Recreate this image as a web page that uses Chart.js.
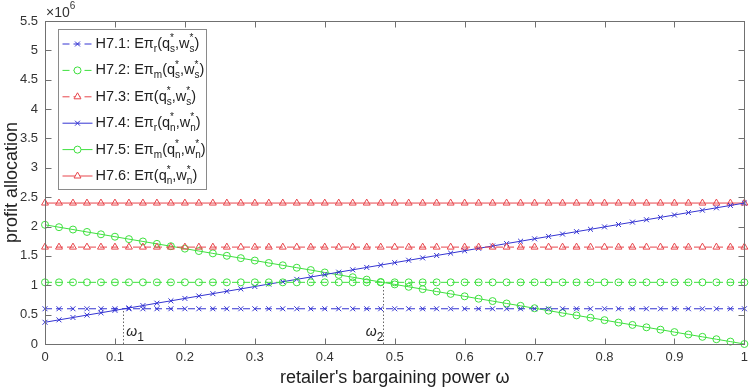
<!DOCTYPE html>
<html>
<head>
<meta charset="utf-8">
<script src="https://cdn.jsdelivr.net/npm/chart.js@4.4.0/dist/chart.umd.min.js"></script>
<style>
  html, body { margin: 0; padding: 0; background: #fff; }
  #wrap { width: 754px; height: 390px; }
</style>
</head>
<body>
<div id="wrap"><canvas id="profit" width="754" height="390"></canvas></div>
<script>
// retailer's bargaining power (x axis)
const omega = [0, 0.02, 0.04, 0.06, 0.08, 0.1, 0.12, 0.14, 0.16, 0.18,
  0.2, 0.22, 0.24, 0.26, 0.28, 0.3, 0.32, 0.34, 0.36, 0.38,
  0.4, 0.42, 0.44, 0.46, 0.48, 0.5, 0.52, 0.54, 0.56, 0.58,
  0.6, 0.62, 0.64, 0.66, 0.68, 0.7, 0.72, 0.74, 0.76, 0.78,
  0.8, 0.82, 0.84, 0.86, 0.88, 0.9, 0.92, 0.94, 0.96, 0.98, 1];

// profit values, in units of 10^6
const h71 = [0.6, 0.6, 0.6, 0.6, 0.6, 0.6, 0.6, 0.6, 0.6, 0.6,
  0.6, 0.6, 0.6, 0.6, 0.6, 0.6, 0.6, 0.6, 0.6, 0.6,
  0.6, 0.6, 0.6, 0.6, 0.6, 0.6, 0.6, 0.6, 0.6, 0.6,
  0.6, 0.6, 0.6, 0.6, 0.6, 0.6, 0.6, 0.6, 0.6, 0.6,
  0.6, 0.6, 0.6, 0.6, 0.6, 0.6, 0.6, 0.6, 0.6, 0.6, 0.6];
const h72 = [1.05, 1.05, 1.05, 1.05, 1.05, 1.05, 1.05, 1.05, 1.05, 1.05,
  1.05, 1.05, 1.05, 1.05, 1.05, 1.05, 1.05, 1.05, 1.05, 1.05,
  1.05, 1.05, 1.05, 1.05, 1.05, 1.05, 1.05, 1.05, 1.05, 1.05,
  1.05, 1.05, 1.05, 1.05, 1.05, 1.05, 1.05, 1.05, 1.05, 1.05,
  1.05, 1.05, 1.05, 1.05, 1.05, 1.05, 1.05, 1.05, 1.05, 1.05, 1.05];
const h73 = [1.65, 1.65, 1.65, 1.65, 1.65, 1.65, 1.65, 1.65, 1.65, 1.65,
  1.65, 1.65, 1.65, 1.65, 1.65, 1.65, 1.65, 1.65, 1.65, 1.65,
  1.65, 1.65, 1.65, 1.65, 1.65, 1.65, 1.65, 1.65, 1.65, 1.65,
  1.65, 1.65, 1.65, 1.65, 1.65, 1.65, 1.65, 1.65, 1.65, 1.65,
  1.65, 1.65, 1.65, 1.65, 1.65, 1.65, 1.65, 1.65, 1.65, 1.65, 1.65];
const h74 = [0.370, 0.411, 0.451, 0.492, 0.532, 0.573, 0.614, 0.654, 0.695, 0.735,
  0.776, 0.817, 0.857, 0.898, 0.938, 0.979, 1.020, 1.060, 1.101, 1.141,
  1.182, 1.223, 1.263, 1.304, 1.344, 1.385, 1.426, 1.466, 1.507, 1.547,
  1.588, 1.629, 1.669, 1.710, 1.750, 1.791, 1.832, 1.872, 1.913, 1.953,
  1.994, 2.035, 2.075, 2.116, 2.156, 2.197, 2.238, 2.278, 2.319, 2.359, 2.400];
const h75 = [2.030, 1.989, 1.949, 1.908, 1.868, 1.827, 1.786, 1.746, 1.705, 1.665,
  1.624, 1.583, 1.543, 1.502, 1.462, 1.421, 1.380, 1.340, 1.299, 1.259,
  1.218, 1.177, 1.137, 1.096, 1.056, 1.015, 0.974, 0.934, 0.893, 0.853,
  0.812, 0.771, 0.731, 0.690, 0.650, 0.609, 0.568, 0.528, 0.487, 0.447,
  0.406, 0.365, 0.325, 0.284, 0.244, 0.203, 0.162, 0.122, 0.081, 0.041, 0.000];
const h76 = [2.4, 2.4, 2.4, 2.4, 2.4, 2.4, 2.4, 2.4, 2.4, 2.4,
  2.4, 2.4, 2.4, 2.4, 2.4, 2.4, 2.4, 2.4, 2.4, 2.4,
  2.4, 2.4, 2.4, 2.4, 2.4, 2.4, 2.4, 2.4, 2.4, 2.4,
  2.4, 2.4, 2.4, 2.4, 2.4, 2.4, 2.4, 2.4, 2.4, 2.4,
  2.4, 2.4, 2.4, 2.4, 2.4, 2.4, 2.4, 2.4, 2.4, 2.4, 2.4];

const labels = [
  "H7.1: E\u03c0_{r}(q^{*}_{s},w^{*}_{s})",
  "H7.2: E\u03c0_{m}(q^{*}_{s},w^{*}_{s})",
  "H7.3: E\u03c0(q^{*}_{s},w^{*}_{s})",
  "H7.4: E\u03c0_{r}(q^{*}_{n},w^{*}_{n})",
  "H7.5: E\u03c0_{m}(q^{*}_{n},w^{*}_{n})",
  "H7.6: E\u03c0(q^{*}_{n},w^{*}_{n})"
];

// crossing points: [omega, profit] and their names
const crossX = [0.112, 0.483];
const crossY = [0.6, 1.05];
const crossNames = ["1", "2"];

const BLUE = "#3434d2";
const GREEN = "#3ee03e";
const RED = "#e8464c";
const FONT = "'Liberation Sans', Arial, sans-serif";

function series(values) {
  return omega.map((w, i) => ({ x: w, y: values[i] }));
}

function makeSet(label, values, color, style, dashed) {
  return {
    label: label,
    data: series(values),
    borderColor: color,
    backgroundColor: color,
    borderWidth: 1,
    borderDash: dashed ? [7, 4] : [],
    pointStyle: style,
    pointRadius: style === "triangle" ? 4 : 3.5,
    pointBorderWidth: 1,
    pointBorderColor: color,
    pointBackgroundColor: "rgba(0,0,0,0)",
    tension: 0,
    clip: false,
  };
}

// draw text with _{sub} and ^{sup} parts
function drawRich(ctx, str, x, y, size) {
  let cx = x;
  let i = 0;
  const big = size + "px " + FONT;
  const small = Math.round(size * 0.72) + "px " + FONT;
  while (i < str.length) {
    if (str[i] === "^" || str[i] === "_") {
      let sup = "", sub = "";
      while (i < str.length && (str[i] === "^" || str[i] === "_")) {
        const end = str.indexOf("}", i);
        const part = str.slice(i + 2, end);
        if (str[i] === "^") sup = part; else sub = part;
        i = end + 1;
      }
      ctx.font = small;
      const w = Math.max(ctx.measureText(sup).width, ctx.measureText(sub).width);
      if (sup) ctx.fillText(sup, cx, y - size * 0.38);
      if (sub) ctx.fillText(sub, cx, y + size * 0.36);
      cx += w;
    } else {
      let j = i;
      while (j < str.length && str[j] !== "^" && str[j] !== "_") j++;
      const part = str.slice(i, j);
      ctx.font = big;
      ctx.fillText(part, cx, y);
      cx += ctx.measureText(part).width;
      i = j;
    }
  }
}

const decorPlugin = {
  id: "decor",
  beforeDatasetsDraw(chart) {
    const ctx = chart.ctx;
    const xs = chart.scales.x, ys = chart.scales.y;
    ctx.save();
    ctx.strokeStyle = "#666";
    ctx.lineWidth = 1;
    ctx.setLineDash([1.5, 2]);
    crossX.forEach((w, i) => {
      const px = Math.round(xs.getPixelForValue(w)) + 0.5;
      ctx.beginPath();
      ctx.moveTo(px, ys.getPixelForValue(0));
      ctx.lineTo(px, ys.getPixelForValue(crossY[i]));
      ctx.stroke();
    });
    ctx.restore();
  },
  afterDraw(chart) {
    const ctx = chart.ctx;
    const a = chart.chartArea;
    const xs = chart.scales.x, ys = chart.scales.y;
    ctx.save();

    // axis box with inward ticks
    ctx.strokeStyle = "#707070";
    ctx.lineWidth = 1;
    ctx.setLineDash([]);
    const L = Math.round(a.left) + 0.5, R = Math.round(a.right) + 0.5;
    const T = Math.round(a.top) + 0.5, B = Math.round(a.bottom) + 0.5;
    ctx.strokeRect(L, T, R - L, B - T);
    ctx.beginPath();
    xs.ticks.forEach(t => {
      const px = Math.round(xs.getPixelForValue(t.value)) + 0.5;
      ctx.moveTo(px, B); ctx.lineTo(px, B - 6);
      ctx.moveTo(px, T); ctx.lineTo(px, T + 6);
    });
    ys.ticks.forEach(t => {
      const py = Math.round(ys.getPixelForValue(t.value)) + 0.5;
      ctx.moveTo(L, py); ctx.lineTo(L + 6, py);
      ctx.moveTo(R, py); ctx.lineTo(R - 6, py);
    });
    ctx.stroke();

    // exponent label
    ctx.fillStyle = "#333";
    ctx.textBaseline = "alphabetic";
    ctx.textAlign = "left";
    ctx.font = "14px " + FONT;
    ctx.fillText("\u00d710", a.left + 1, a.top - 4);
    const ew = ctx.measureText("\u00d710").width;
    ctx.font = "10px " + FONT;
    ctx.fillText("6", a.left + 1 + ew, a.top - 12);

    // omega labels at crossings
    crossX.forEach((w, i) => {
      const px = xs.getPixelForValue(w);
      const lx = i === 0 ? px + 3 : px - 17;
      ctx.font = "italic 14px " + FONT;
      ctx.fillStyle = "#222";
      ctx.fillText("\u03c9", lx, a.bottom - 8);
      const ow = ctx.measureText("\u03c9").width;
      ctx.font = "12px " + FONT;
      ctx.fillText(crossNames[i], lx + ow, a.bottom - 3);
    });

    // legend box
    const bx = a.left + 13.5, by = a.top + 8.5, bw = 148, bh = 160;
    ctx.fillStyle = "#fff";
    ctx.fillRect(bx, by, bw, bh);
    ctx.strokeStyle = "#8a8a8a";
    ctx.strokeRect(bx, by, bw, bh);
    chart.data.datasets.forEach((ds, i) => {
      const ry = by + 14.5 + i * 26.4;
      ctx.strokeStyle = ds.borderColor;
      ctx.lineWidth = 1;
      ctx.setLineDash(ds.borderDash);
      ctx.beginPath();
      ctx.moveTo(bx + 4, ry);
      ctx.lineTo(bx + 34, ry);
      ctx.stroke();
      ctx.setLineDash([]);
      if (Chart.helpers && Chart.helpers.drawPoint) {
        ctx.fillStyle = "#fff";
        Chart.helpers.drawPoint(ctx, {
          pointStyle: ds.pointStyle, radius: ds.pointRadius,
          borderWidth: 1, rotation: 0
        }, bx + 19, ry);
      }
      ctx.fillStyle = "#222";
      ctx.textBaseline = "middle";
      drawRich(ctx, labels[i], bx + 37, ry, 14.5);
    });
    ctx.restore();
  }
};

new Chart(document.getElementById("profit"), {
  type: "line",
  data: {
    datasets: [
      makeSet(labels[0], h71, BLUE, "crossRot", true),
      makeSet(labels[1], h72, GREEN, "circle", true),
      makeSet(labels[2], h73, RED, "triangle", true),
      makeSet(labels[3], h74, BLUE, "crossRot", false),
      makeSet(labels[4], h75, GREEN, "circle", false),
      makeSet(labels[5], h76, RED, "triangle", false),
    ],
  },
  options: {
    responsive: false,
    animation: false,
    devicePixelRatio: 1,
    layout: { padding: { top: 21, right: 9, left: 0, bottom: 0 } },
    plugins: { legend: { display: false }, tooltip: { enabled: false } },
    scales: {
      x: {
        type: "linear",
        min: 0,
        max: 1,
        afterFit: s => { s.height = 46; },
        grid: { display: false, drawTicks: false },
        border: { display: false },
        ticks: {
          stepSize: 0.1,
          padding: 6,
          maxRotation: 0,
          color: "#333",
          font: { family: FONT, size: 13 },
          callback: v => String(+v.toFixed(2)),
        },
        title: {
          display: true,
          text: "retailer's bargaining power \u03c9",
          color: "#222",
          font: { family: FONT, size: 18 },
          padding: { top: 0, bottom: 1 },
        },
      },
      y: {
        min: 0,
        max: 5.5,
        afterFit: s => { s.width = 45; },
        grid: { display: false, drawTicks: false },
        border: { display: false },
        ticks: {
          stepSize: 0.5,
          padding: 7,
          color: "#333",
          font: { family: FONT, size: 13 },
          callback: v => String(+v.toFixed(2)),
        },
        title: {
          display: true,
          text: "profit allocation",
          color: "#222",
          font: { family: FONT, size: 18 },
          padding: { top: 1, bottom: 0 },
        },
      },
    },
  },
  plugins: [decorPlugin],
});
</script>
</body>
</html>
